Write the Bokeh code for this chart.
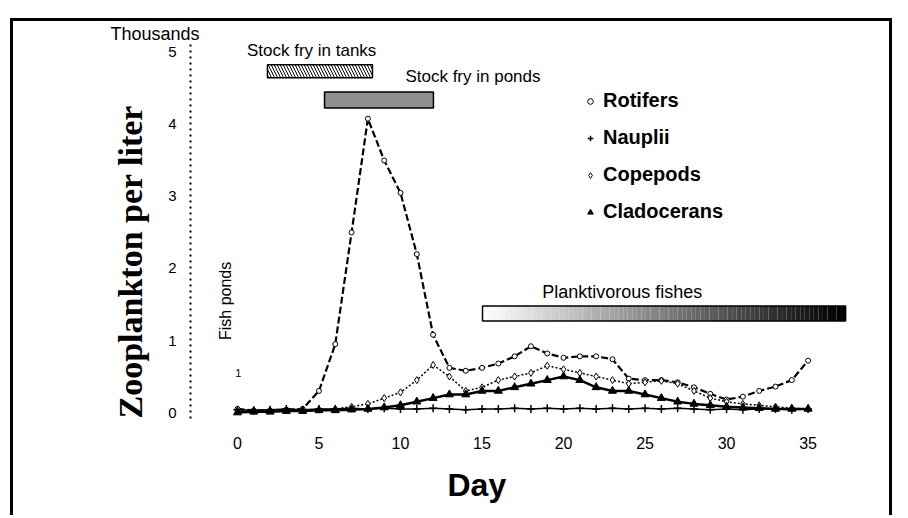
import numpy as np
from bokeh.plotting import figure
from bokeh.models import (Range1d, FixedTicker, Label, Legend, LegendItem, Title)
from bokeh.embed import file_html
from bokeh.resources import INLINE

days = list(range(0, 36))
rotifers = [0.05, 0.03, 0.03, 0.04, 0.05, 0.3, 0.95, 2.5, 4.08, 3.5, 3.05, 2.2, 1.08, 0.62, 0.58, 0.62, 0.68, 0.78, 0.92,
            0.82, 0.76, 0.78, 0.78, 0.74, 0.47, 0.45, 0.45, 0.42, 0.35, 0.26, 0.18, 0.22, 0.3, 0.36, 0.45, 0.72]
nauplii = [0.04, 0.03, 0.04, 0.05, 0.04, 0.05, 0.05, 0.06, 0.05, 0.06, 0.05, 0.05, 0.06, 0.05, 0.04, 0.05, 0.05, 0.06,
           0.05, 0.06, 0.05, 0.06, 0.05, 0.06, 0.05, 0.06, 0.05, 0.06, 0.05, 0.04, 0.05, 0.04, 0.05, 0.05, 0.04, 0.05]
copepods = [0.02, 0.02, 0.03, 0.03, 0.03, 0.04, 0.05, 0.08, 0.12, 0.2, 0.28, 0.45, 0.66, 0.5, 0.3, 0.35, 0.45, 0.5,
            0.55, 0.65, 0.6, 0.55, 0.5, 0.45, 0.4, 0.42, 0.44, 0.4, 0.3, 0.2, 0.15, 0.12, 0.1, 0.08, 0.06, 0.05]
cladocerans = [0.0, 0.01, 0.01, 0.02, 0.02, 0.03, 0.03, 0.04, 0.05, 0.07, 0.1, 0.15, 0.2, 0.25, 0.25, 0.3, 0.3, 0.35,
               0.4, 0.45, 0.5, 0.45, 0.35, 0.3, 0.3, 0.25, 0.2, 0.15, 0.12, 0.1, 0.08, 0.07, 0.06, 0.05, 0.05, 0.05]
x_ticks = [0, 5, 10, 15, 20, 25, 30, 35]
y_ticks = [0, 1, 2, 3, 4, 5]

SANS = "Liberation Sans"
SERIF = "Liberation Serif"

p = figure(width=882, height=497, output_backend="svg", toolbar_location=None,
           x_range=Range1d(-2.88, 37.6), y_range=Range1d(-0.083, 5.124),
           min_border_left=177, min_border_right=45, min_border_top=20, min_border_bottom=100,
           styles={"margin-left": "10px", "margin-top": "18px",
                   "border-left": "3px solid black", "border-top": "3px solid black",
                   "border-right": "3px solid black"})
p.outline_line_color = None
p.grid.visible = False
p.background_fill_color = "white"
p.border_fill_color = "white"

# x axis
xa = p.xaxis[0]
xa.ticker = FixedTicker(ticks=x_ticks)
xa.axis_line_color = None
xa.major_tick_line_color = None
xa.minor_tick_line_color = None
xa.major_label_standoff = 12
xa.major_label_text_font = SANS
xa.major_label_text_font_size = "16px"
xa.major_label_text_color = "black"

# y axis (thousands)
ya = p.yaxis[0]
ya.ticker = FixedTicker(ticks=y_ticks)
ya.axis_line_dash = "dotted"
ya.axis_line_width = 2
ya.axis_line_color = "black"
ya.major_tick_line_color = None
ya.minor_tick_line_color = None
ya.major_label_standoff = 8
ya.major_label_text_font = SANS
ya.major_label_text_font_size = "15px"
ya.major_label_text_color = "black"

# bars (stocking periods)
p.quad(left=[1.84], right=[8.28], bottom=[4.65], top=[4.83], fill_color="white",
       line_color="black", line_width=1.5, hatch_pattern="\\", hatch_color="black",
       hatch_scale=6, hatch_weight=1)
p.quad(left=[5.34], right=[12.02], bottom=[4.23], top=[4.45], fill_color="#8f8f8f",
       line_color="black", line_width=1.5)
n = 80
edges = np.linspace(15.03, 37.3, n + 1)
grays = np.linspace(255, 0, n).astype(int)
cols = ["#%02x%02x%02x" % (g, g, g) for g in grays]
p.quad(left=edges[:-1], right=edges[1:], bottom=1.27, top=1.48, fill_color=cols, line_color=None)
p.quad(left=[15.03], right=[37.3], bottom=[1.27], top=[1.48], fill_color=None,
       line_color="black", line_width=1.5)

# series
p.line(days, rotifers, line_color="black", line_width=2.2, line_dash="7 3")
r_rot = p.scatter(days, rotifers, marker="circle", size=5, fill_color="white", line_color="black")
p.line(days, nauplii, line_color="black", line_width=1.5)
r_nau = p.scatter(days, nauplii, marker="cross", size=8, line_color="black", line_width=1.5)
p.line(days, copepods, line_color="black", line_width=1.5, line_dash="2 2")
r_cop = p.scatter(days, copepods, marker="diamond", size=7, fill_color="white", line_color="black")
p.line(days, cladocerans, line_color="black", line_width=2.5)
r_cla = p.scatter(days, cladocerans, marker="triangle", size=8, fill_color="black", line_color="black")

legend = Legend(items=[LegendItem(label="Rotifers", renderers=[r_rot]),
                       LegendItem(label="Nauplii", renderers=[r_nau]),
                       LegendItem(label="Copepods", renderers=[r_cop]),
                       LegendItem(label="Cladocerans", renderers=[r_cla])],
                location=(393, 195), glyph_width=14, glyph_height=20, label_height=20,
                spacing=14, padding=0, margin=0, label_standoff=6,
                label_text_font=SANS, label_text_font_size="20px", label_text_font_style="bold",
                label_text_color="black",
                border_line_color=None, background_fill_alpha=0)
p.add_layout(legend)

def lab(x, y, t, size, **kw):
    p.add_layout(Label(x=x, y=y, text=t, text_font=kw.pop("font", SANS), text_font_size=size,
                       text_color="black", **kw))

lab(4.55, 5.02, "Stock fry in tanks", "17px", text_align="center", text_baseline="middle")
lab(10.3, 4.67, "Stock fry in ponds", "17px", text_align="left", text_baseline="middle")
lab(23.6, 1.67, "Planktivorous fishes", "18px", text_align="center", text_baseline="middle")
lab(-0.74, 1.55, "Fish ponds", "16px", text_align="center", text_baseline="middle", angle=np.pi / 2)
lab(0.05, 0.55, "1", "11px", text_align="center", text_baseline="middle")

p.add_layout(Title(text="Thousands", align="left", offset=-80, standoff=0, text_color="black",
                   text_font=SANS, text_font_size="18px", text_font_style="normal"), "above")
p.add_layout(Title(text="Zooplankton per liter", align="left", offset=0, standoff=33, text_color="black",
                   text_font=SERIF, text_font_size="34px", text_font_style="bold"), "left")
p.add_layout(Title(text="Day", align="left", offset=257, standoff=26, text_color="black",
                   text_font=SANS, text_font_size="32px", text_font_style="bold"), "below")

open("out.html", "w").write(file_html(p, INLINE))
